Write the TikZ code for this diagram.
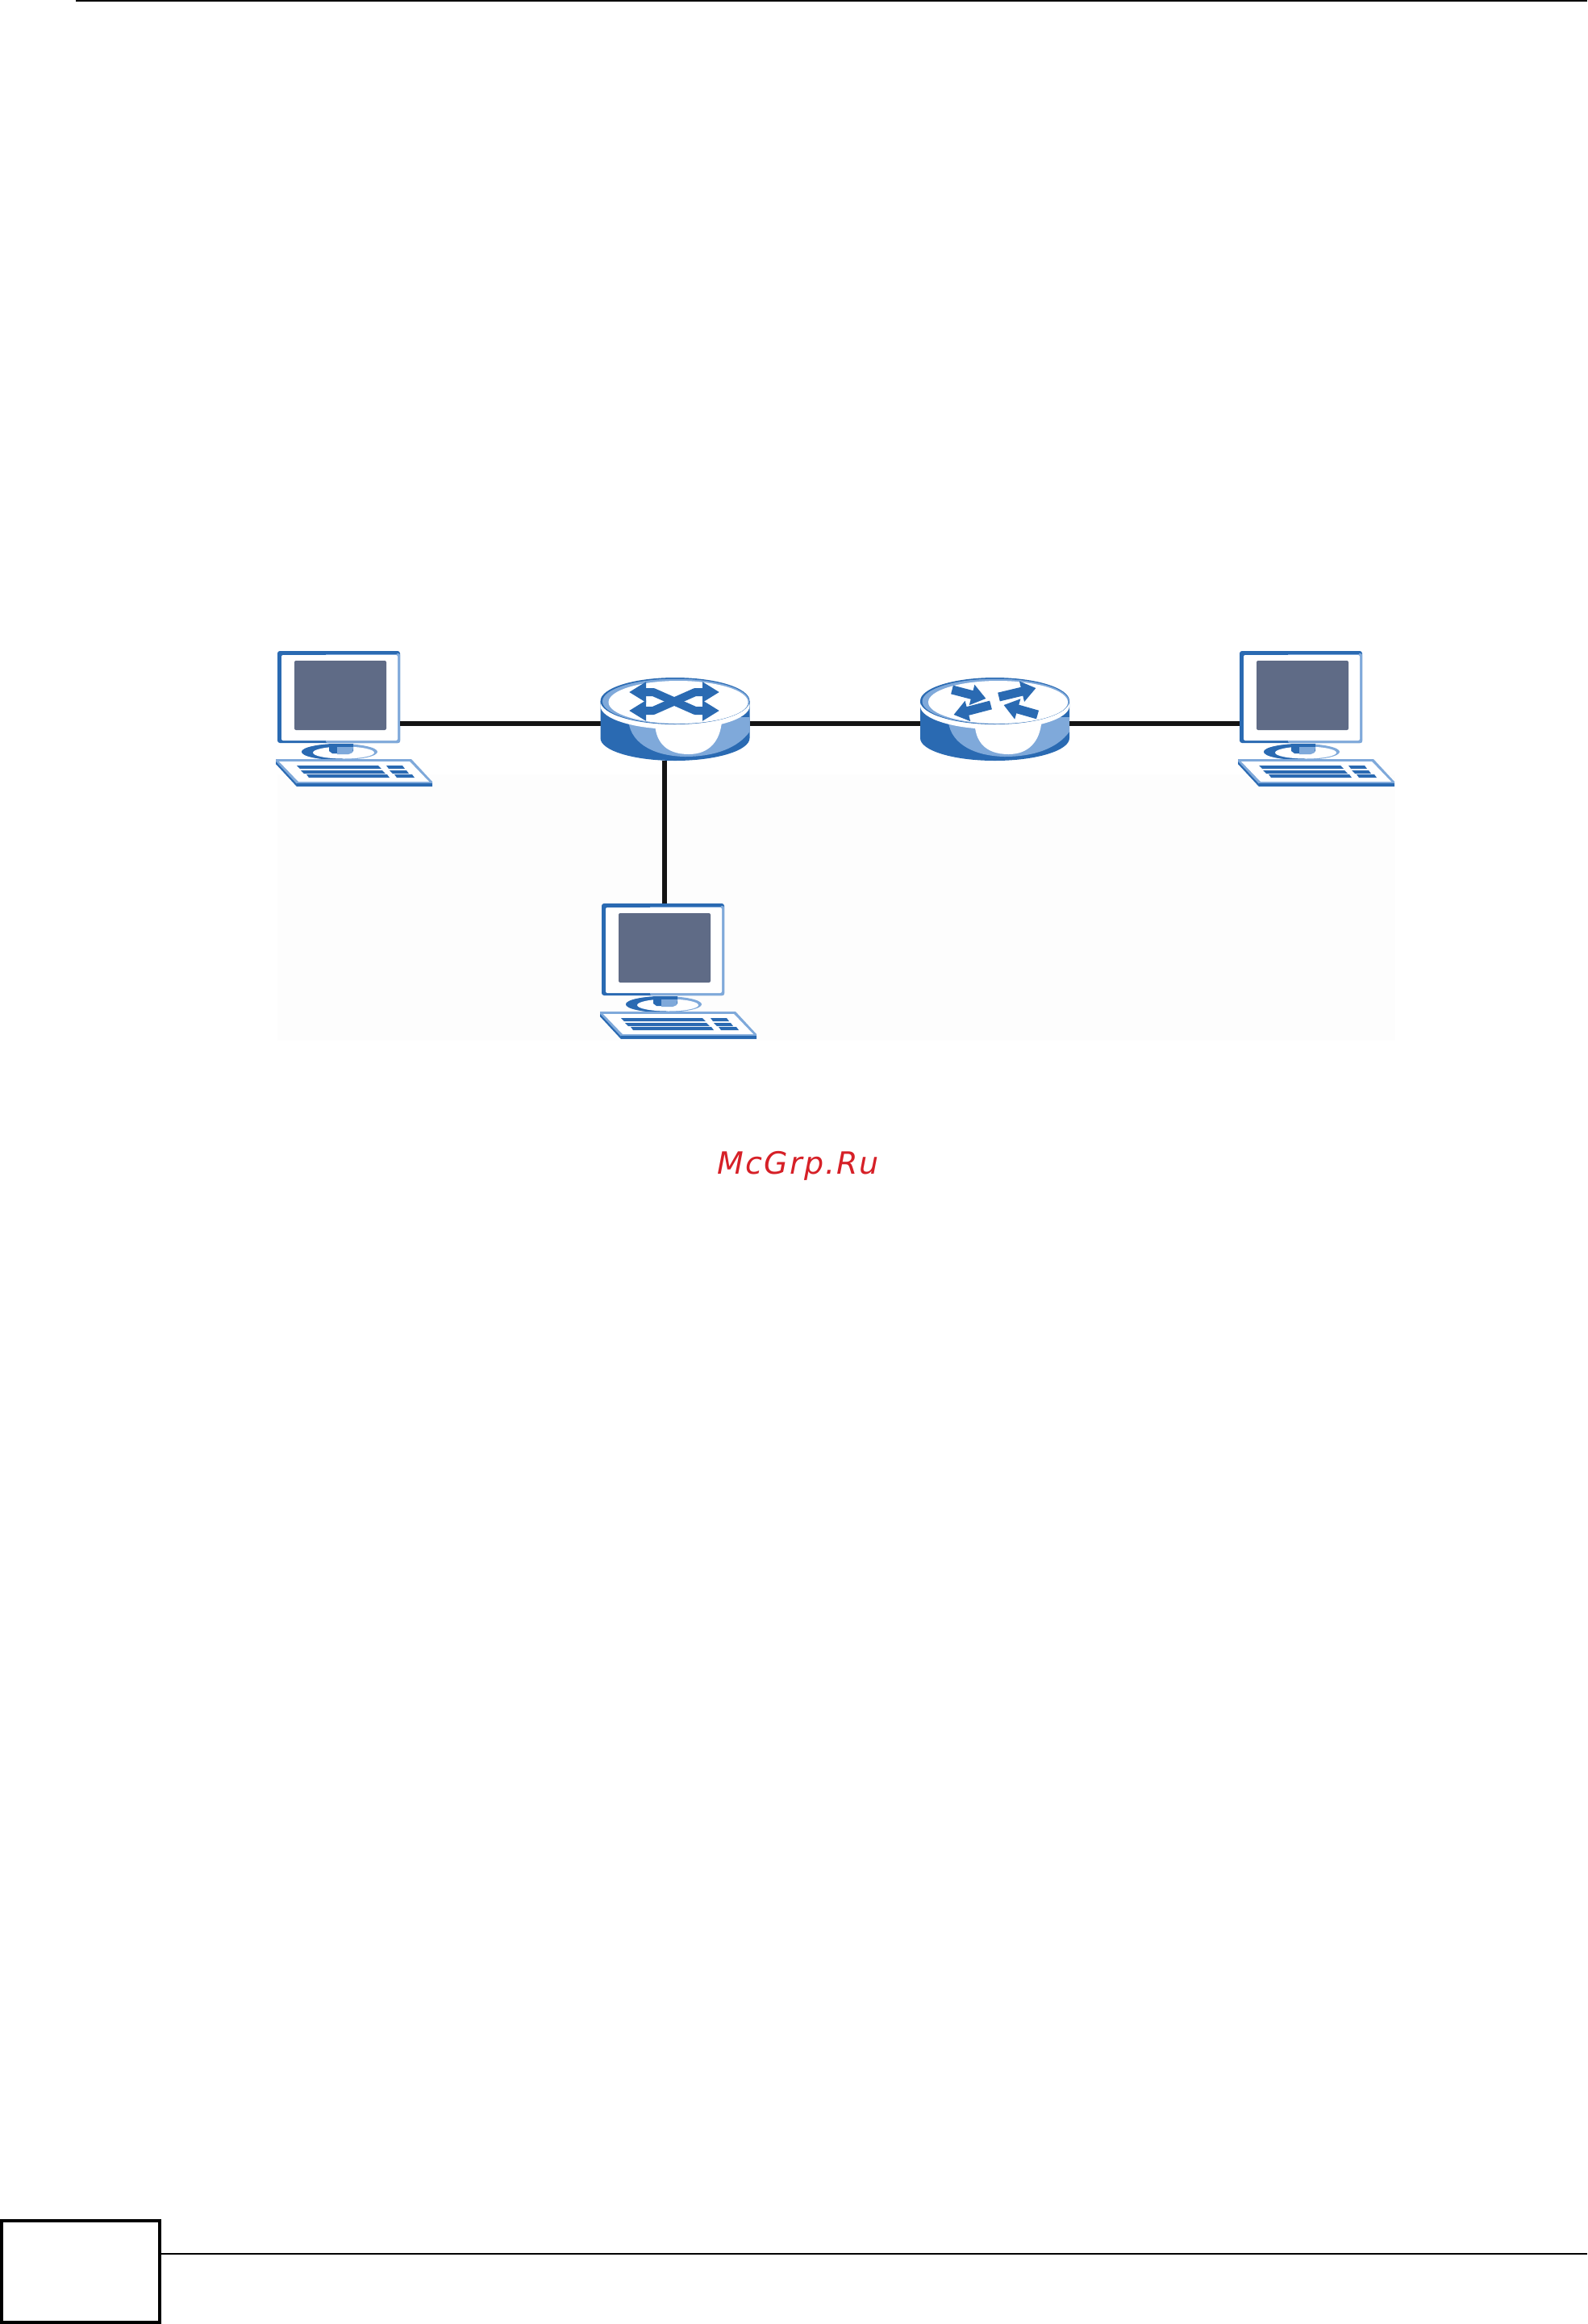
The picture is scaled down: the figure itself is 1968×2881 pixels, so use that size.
\documentclass[tikz,border=0pt]{standalone}
\usepackage{fontspec}
\usetikzlibrary{arrows.meta,shapes.geometric}
\newfontfamily\wmfont[LetterSpace=5.5]{DejaVu Sans}
\definecolor{nblue}{HTML}{2A6AB2}
\definecolor{lblue}{HTML}{7FA9DA}
\definecolor{screenc}{HTML}{5F6B86}
\definecolor{linkc}{HTML}{141414}
\definecolor{wmred}{HTML}{D62027}
\definecolor{faint}{HTML}{FDFDFD}
\tikzset{
  x=1pt,y=-1pt,
  anchorbox/.style={inner sep=0pt,outer sep=0pt,minimum width=#1,draw=none},
  link/.style={draw=linkc,line width=6.5pt},
  rule/.style={draw=black,line width=2.3pt},
  fatarrow/.style={line width=11pt,draw=nblue,-{Triangle[length=18pt,width=25pt,fill=nblue]}},
  xarrow/.style={line width=10pt,line join=round,draw=nblue,{Triangle[length=21pt,width=24pt,fill=nblue]}-{Triangle[length=21pt,width=24pt,fill=nblue]}},
  computer/.pic={
    % monitor
    \fill[nblue,rounded corners=3pt] (0,0) rectangle (152,114);
    \fill[lblue,rounded corners=2pt] (60,3) rectangle (152,114);
    \fill[nblue] (4,0) rectangle (148,4);
    \fill[white,rounded corners=2pt] (5,5) rectangle (149,111);
    \fill[screenc,rounded corners=2pt] (21,12) rectangle (135,98);
    \node[anchorbox=152pt,minimum height=114pt] (-mon) at (76,57) {};
    % stand
    \fill[lblue] (77,125) ellipse [x radius=47,y radius=10];
    \begin{scope}
      \clip (25,110) rectangle (82,140);
      \fill[nblue] (77,125) ellipse [x radius=47,y radius=10];
    \end{scope}
    \fill[white] (82,126) ellipse [x radius=38,y radius=7.5];
    \fill[nblue] (64,115) -- (94,115) -- (94,124) -- (90,127) -- (68,127) -- (64,124) -- cycle;
    \fill[lblue] (74,119) -- (94,119) -- (93,126) -- (88,128) -- (74,128) -- cycle;
    % keyboard
    \fill[lblue] (-2,134) -- (166,134) -- (192,162) -- (192,168) -- (24,168) -- (-2,140) -- cycle;
    \fill[white] (2,137) -- (164,137) -- (188,162) -- (26,162) -- cycle;
    \fill[nblue] (24,164) rectangle (192,168);
    \fill[nblue] (-2,137) -- (24,165) -- (24,168) -- (-2,140) -- cycle;
    \fill[nblue] (24,142) -- (125,142) -- (129,146) -- (28,146) -- cycle;
    \fill[nblue] (29,148) -- (130,148) -- (134,152) -- (33,152) -- cycle;
    \fill[nblue] (36,153) -- (136,153) -- (139,157) -- (39,157) -- cycle;
    \fill[nblue] (135,142) -- (155,142) -- (158,146) -- (138,146) -- cycle;
    \fill[nblue] (139,148) -- (160,148) -- (163,152) -- (143,152) -- cycle;
    \fill[nblue] (145,153) -- (167,153) -- (170,157) -- (148,157) -- cycle;
  },
  routerbody/.pic={
    % body (angles run the other way because y points down)
    \fill[nblue] (-92.5,0) -- (-92.5,46) arc[start angle=180,end angle=0,x radius=92.5,y radius=28] -- (92.5,0) -- cycle;
    % light panel
    \begin{scope}
      \clip (-92.5,0) -- (-92.5,46) arc[start angle=180,end angle=0,x radius=92.5,y radius=28] -- (92.5,0) -- cycle;
      \fill[lblue] (-58,20) .. controls (-58,50) and (-30,68) .. (12,69) .. controls (50,69) and (78,58) .. (92.5,38) -- (92.5,20) -- cycle;
    \end{scope}
    \fill[white] (-25,25) .. controls (-25,50) and (-12,66) .. (17,66) .. controls (42,66) and (56,50) .. (58,25) -- cycle;
    % rim
    \fill[white] (0,6) ellipse [x radius=92.5,y radius=29];
    % top
    \fill[nblue] (0,0) ellipse [x radius=92.5,y radius=29];
    \fill[lblue] (1,0.5) ellipse [x radius=91,y radius=28];
    \fill[white] (4,1.5) ellipse [x radius=86.5,y radius=26.5];
  },
}
\begin{document}
\begin{tikzpicture}
\useasboundingbox (0,0) rectangle (1968,2881);
\fill[white] (0,0) rectangle (1968,2881);
\fill[faint] (344,960) rectangle (1730,1290);
% page rules
\draw[rule] (94,1) -- (1968,1);
\draw[draw=black,line width=4pt] (2,2753) rectangle (198,2879);
\draw[rule] (200,2794) -- (1968,2794);
\node[anchorbox=185pt,minimum height=92pt] (sw) at (837,897) {};
\node[anchorbox=185pt,minimum height=92pt] (rt) at (1233.5,897) {};
% devices
\pic (pcA) at (344,807) {computer};
\pic (pcB) at (1537,807) {computer};
\pic (pcC) at (746,1120) {computer};
\draw[link] (pcA-mon.east |- sw.center) -- (sw.west);
\draw[link] (sw.east) -- (rt.west);
\draw[link] (rt.east) -- (pcB-mon.west |- rt.center);
\draw[link] ([xshift=2pt]pcC-mon.north) -- ([xshift=2pt]pcC-mon.north |- sw.south);
\pic at (837,869) {routerbody};
\pic at (1233.5,869) {routerbody};
% arrows on the switch
\begin{scope}[shift={(836,870)}]
  \draw[xarrow] (-56,-12) -- (-26,-12) -- (26,11) -- (56,11);
  \draw[xarrow] (-56,11) -- (-26,11) -- (26,-12) -- (56,-12);
\end{scope}
% arrows on the router
\begin{scope}[shift={(1233.5,869)}]
  \draw[fatarrow] (-53,-14) -- (-11,-3);
  \draw[fatarrow] (5,-5) -- (51,-16);
  \draw[fatarrow] (-5,5) -- (-51,17);
  \draw[fatarrow] (53,17) -- (11,5);
\end{scope}
% watermark
\node[anchor=base,inner sep=0pt,text=wmred,font=\wmfont\itshape\fontsize{38pt}{38pt}\selectfont] (wm) at (990,1455) {McGrp.Ru};
\end{tikzpicture}
\end{document}
